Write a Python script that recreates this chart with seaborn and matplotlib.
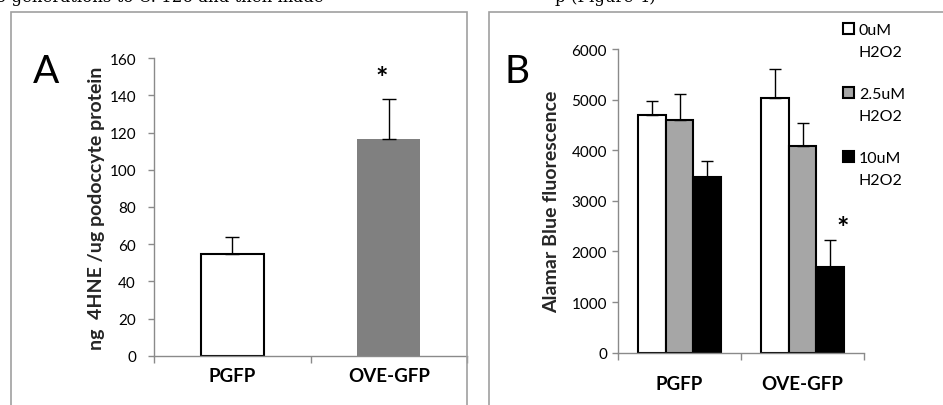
import seaborn as sns
import matplotlib.pyplot as plt
import pandas as pd
from matplotlib.patches import Rectangle, Patch

# panel A data
groups = ["PGFP", "OVE-GFP"]
hne_mean = [54.5, 116.5]
hne_err = [9.2, 21.5]

# panel B data
doses = ["0uM\nH2O2", "2.5uM\nH2O2", "10uM\nH2O2"]
dose_short = ["0uM", "2.5uM", "10uM"]
alamar_mean = {
    "PGFP": [4700, 4600, 3480],
    "OVE-GFP": [5040, 4085, 1695],
}
alamar_err = {
    "PGFP": [280, 510, 300],
    "OVE-GFP": [560, 450, 525],
}

sns.set_style("white")
plt.rcParams["font.family"] = ["Lato", "DejaVu Sans"]
plt.rcParams["text.color"] = "black"

fig = plt.figure(figsize=(9.43, 4.06), dpi=100)
axis_grey = "#8a8a8a"


def style_axis(ax, ymax, ystep, ylabel, label_x, cat_pad, ypad):
    for s in ["top", "right"]:
        ax.spines[s].set_visible(False)
    for s in ["left", "bottom"]:
        ax.spines[s].set_color(axis_grey)
        ax.spines[s].set_linewidth(1.0)
    ax.set_ylim(0, ymax)
    ax.set_yticks(range(0, ymax + 1, ystep))
    ax.set_xlim(-0.5, 1.5)
    ax.set_xticks([-0.5, 0.5, 1.5])
    ax.set_xticklabels([])
    ax.set_xticks([0, 1], labels=groups, minor=True)
    ax.tick_params(axis="y", direction="out", length=4, width=1, color=axis_grey,
                   labelsize=11, pad=ypad, left=True, labelcolor="black")
    ax.tick_params(axis="x", which="major", direction="out", length=5, width=1,
                   color=axis_grey, bottom=True)
    ax.tick_params(axis="x", which="minor", length=0, pad=cat_pad, labelsize=13.5,
                   labelcolor="black")
    for t in ax.get_xticklabels(minor=True):
        t.set_fontweight("bold")
    ax.set_xlabel("")
    ax.set_ylabel(ylabel, fontsize=14, fontweight="bold")
    ax.yaxis.set_label_coords(label_x, 0.5)


# ---------------- Panel A ----------------
ax_a = fig.add_axes([154 / 943, 1 - 356.7 / 406, 313 / 943, 297.4 / 406])
df_a = pd.DataFrame({"group": groups, "value": hne_mean})
sns.barplot(data=df_a, x="group", y="value", hue="group", order=groups,
            hue_order=groups, palette=["white", "#808080"], width=0.4,
            legend=False, ax=ax_a, errorbar=None, linewidth=0)
bars_a = list(ax_a.patches)
bars_a[0].set_edgecolor("black")
bars_a[0].set_linewidth(1.5)
for bar, err in zip(bars_a, hne_err):
    cx = bar.get_x() + bar.get_width() / 2
    h = bar.get_height()
    ax_a.errorbar(cx, h, yerr=[[0], [err]], color="black", lw=1, capsize=5,
                  capthick=1, zorder=1)
ax_a.annotate("*", xy=(1, hne_mean[1] + hne_err[1]), xytext=(-5, 15),
              textcoords="offset points", ha="center", va="center",
              fontsize=21, fontweight="bold")
style_axis(ax_a, 160, 20, "ng  4HNE /ug podoccyte protein", -0.157, 8, 9)

# ---------------- Panel B ----------------
ax_b = fig.add_axes([618 / 943, 1 - 353.7 / 406, 246 / 943, 303.7 / 406])
rows = []
for g in groups:
    for d, v in zip(doses, alamar_mean[g]):
        rows.append({"group": g, "dose": d, "value": v})
df_b = pd.DataFrame(rows)
palette_b = ["white", "#a6a6a6", "black"]
sns.barplot(data=df_b, x="group", y="value", hue="dose", order=groups,
            hue_order=doses, palette=palette_b, width=0.667, errorbar=None,
            edgecolor="black", linewidth=1.5, legend=False, ax=ax_b)
bar_conts = list(ax_b.containers)
for i, cont in enumerate(bar_conts):
    for j, bar in enumerate(cont):
        cx = bar.get_x() + bar.get_width() / 2
        h = bar.get_height()
        ax_b.errorbar(cx, h, yerr=[[0], [alamar_err[groups[j]][i]]], color="black",
                      lw=1, capsize=4, capthick=1, zorder=1)
black_bar = bar_conts[2][1]
ax_b.annotate("*", xy=(black_bar.get_x() + black_bar.get_width() / 2,
                       alamar_mean["OVE-GFP"][2] + alamar_err["OVE-GFP"][2]),
              xytext=(9, 9), textcoords="offset points", ha="center",
              va="center", fontsize=21, fontweight="bold")
style_axis(ax_b, 6000, 1000, "Alamar Blue fluorescence", -0.236, 16, 4)

# legend: square + dose on first line, H2O2 on the next, blank spacer rows
blank = Patch(facecolor="none", edgecolor="none")
handles, labels = [], []
for k, (c, d) in enumerate(zip(palette_b, dose_short)):
    handles.append(Patch(facecolor=c, edgecolor="black", linewidth=1.5))
    labels.append(d)
    handles.append(blank)
    labels.append("H2O2")
    if k < 2:
        handles.append(blank)
        labels.append(" ")
fig.legend(handles, labels, loc="upper left", bbox_to_anchor=(843 / 943, 1 - 24 / 406),
           bbox_transform=fig.transFigure, frameon=False, fontsize=11.5,
           handlelength=0.7, handleheight=0.7, handletextpad=0.3,
           labelspacing=0.45, borderpad=0, borderaxespad=0)

# panel letters
fig.text(33 / 943, 1 - 83 / 406, "A", fontsize=28, va="baseline")
fig.text(505 / 943, 1 - 83 / 406, "B", fontsize=28, va="baseline")

# panel frames
frame_grey = "#a0a0a0"
fig.patches.append(Rectangle((11 / 943, -0.1), 456 / 943, 1.1 - 13 / 406, fill=False,
                             edgecolor=frame_grey, lw=1.2, transform=fig.transFigure))
fig.patches.append(Rectangle((489 / 943, -0.1), 0.6, 1.1 - 13 / 406, fill=False,
                             edgecolor=frame_grey, lw=1.2, transform=fig.transFigure))

# cropped line of body text above the figure
fig.text(-0.004, 1 - 2.5 / 406, "o generations to C. 126 and then made",
         family="DejaVu Serif", fontsize=12, va="baseline")
fig.text(555 / 943, 1 - 2.5 / 406, "p (Figure 4)", family="DejaVu Serif",
         fontsize=12, va="baseline")

fig.savefig("out.png", dpi=100)
